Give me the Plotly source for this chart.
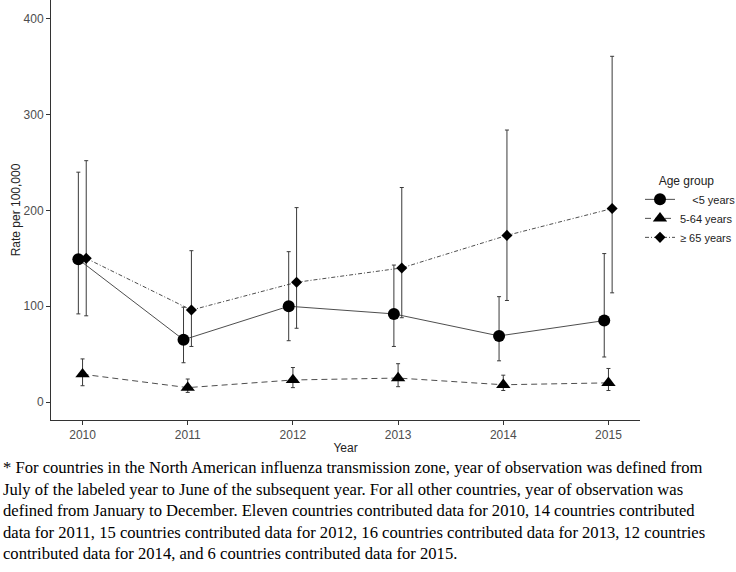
import plotly.graph_objects as go

years = [2010, 2011, 2012, 2013, 2014, 2015]

# <5 years
under5 = [149, 65, 100, 92, 69, 85]
under5_lo = [92, 41, 64, 58, 43, 47]
under5_hi = [240, 99, 157, 143, 110, 155]

# 5-64 years
adult = [29, 15, 23, 25, 18, 20]
adult_lo = [17, 10, 15, 16, 12, 12]
adult_hi = [45, 24, 36, 40, 28, 35]

# >=65 years
senior = [150, 96, 125, 140, 174, 202]
senior_lo = [90, 58, 77, 88, 106, 114]
senior_hi = [252, 158, 203, 224, 284, 361]

labels = ["\u00a0\u00a0\u00a0\u00a0<5 years", "5-64 years", "\u2265 65 years"]
y_ticks = [0, 100, 200, 300, 400]

series = [
    (labels[0], under5, under5_lo, under5_hi, "circle", 12, "solid", -0.04),
    (labels[1], adult, adult_lo, adult_hi, "triangle-up", 12.5, "6px,4px", 0.0),
    (labels[2], senior, senior_lo, senior_hi, "diamond", 8.5, "4px,2px,1px,2px", 0.035),
]

fig = go.Figure()
for name, vals, lo, hi, sym, size, dash, dodge in series:
    xs = [yr + dodge for yr in years]
    fig.add_trace(go.Scatter(
        x=xs, y=vals, name=name, mode="lines+markers",
        line=dict(color="#3a3a3a", width=0.9, dash=dash),
        marker=dict(symbol=sym, size=size, color="black"),
        error_y=dict(type="data", symmetric=False,
                     array=[h - v for h, v in zip(hi, vals)],
                     arrayminus=[v - l for v, l in zip(vals, lo)],
                     color="#3a3a3a", thickness=1, width=2),
    ))

footnote = ("* For countries in the North American influenza transmission zone, year of observation was defined from<br>"
            "July of the labeled year to June of the subsequent year. For all other countries, year of observation was<br>"
            "defined from January to December. Eleven countries contributed data for 2010, 14 countries contributed<br>"
            "data for 2011, 15 countries contributed data for 2012, 16 countries contributed data for 2013, 12 countries<br>"
            "contributed data for 2014, and 6 countries contributed data for 2015.")

fig.add_annotation(text=footnote, xref="paper", yref="paper",
                   x=-0.0846, y=-0.085, xanchor="left", yanchor="top",
                   align="left", showarrow=False,
                   font=dict(family="Liberation Serif, Times New Roman, serif", size=16.6, color="black"))

fig.update_layout(
    width=736, height=572,
    margin=dict(l=51, r=96, t=0, b=152, autoexpand=False),
    paper_bgcolor="white", plot_bgcolor="white",
    font=dict(family="Liberation Sans, Arial, sans-serif", size=12, color="#333333"),
    showlegend=True,
    legend=dict(title=dict(text="\u00a0\u00a0\u00a0\u00a0\u00a0Age group", font=dict(size=12, color="#222222")),
                x=1.0, y=0.597, xanchor="left", yanchor="top",
                font=dict(size=11, color="#222222"), tracegroupgap=0,
                itemwidth=30, bgcolor="rgba(0,0,0,0)"),
    xaxis=dict(range=[2009.7, 2015.3], tickvals=years, ticktext=[str(y) for y in years],
               showline=True, linecolor="#333333", linewidth=1, mirror=False,
               ticks="outside", ticklen=4, tickcolor="#333333", automargin=False,
               tickfont=dict(size=12, color="#4D4D4D"), showgrid=False, zeroline=False,
               title=dict(text="Year", font=dict(size=12, color="#222222"), standoff=2)),
    yaxis=dict(range=[-18.8, 419.8], tickvals=y_ticks,
               showline=True, linecolor="#333333", linewidth=1, automargin=False,
               ticks="outside", ticklen=4, tickcolor="#333333",
               tickfont=dict(size=12, color="#4D4D4D"), showgrid=False, zeroline=False,
               title=dict(text="Rate per 100,000", font=dict(size=12, color="#222222"), standoff=0)),
)

fig.write_html("out.html", config={"displayModeBar": False},
               post_script="document.body.style.margin='0';")
